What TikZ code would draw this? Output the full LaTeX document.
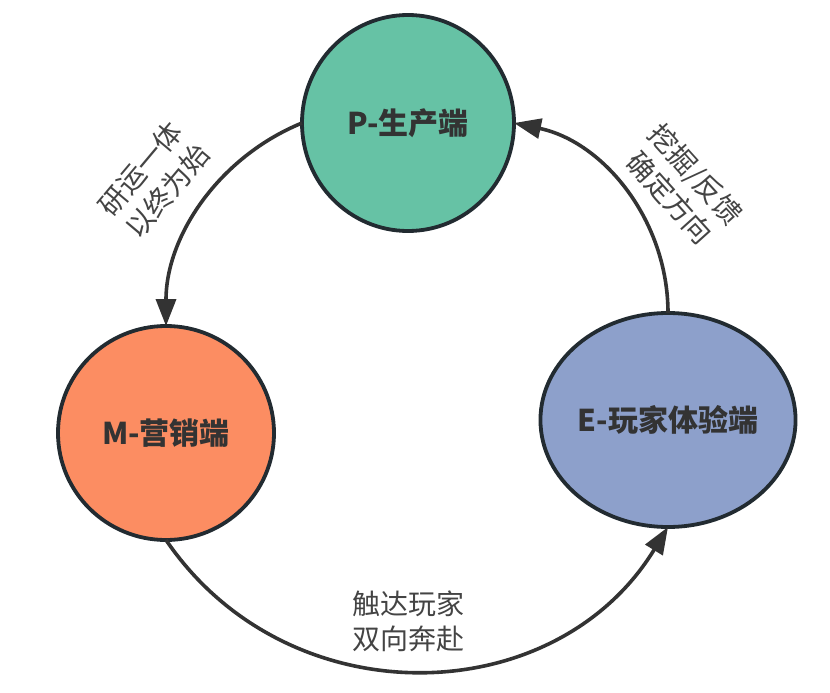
\documentclass[tikz,border=0pt]{standalone}
\usepackage{fontspec}
\setmainfont{Noto Sans CJK SC}
\usetikzlibrary{shapes.geometric,arrows.meta}
\definecolor{pfill}{HTML}{66C2A5}
\definecolor{mfill}{HTML}{FC8D62}
\definecolor{efill}{HTML}{8DA0CB}
\definecolor{rim}{HTML}{222B31}
\definecolor{ink}{HTML}{333333}
\definecolor{labelink}{HTML}{444444}
\begin{document}
\begin{tikzpicture}[x=1pt,y=-1pt,
  stage/.style={ellipse, draw=rim, line width=3.8pt, inner sep=0pt, outer sep=0pt,
    font=\fontsize{30}{34}\selectfont\bfseries, text=ink},
  flow/.style={draw=ink, line width=3.6pt, -{Triangle[length=27pt,width=20pt]}},
  note/.style={font=\fontsize{28}{35}\selectfont, text=labelink, align=center, inner sep=0pt}]
\useasboundingbox[fill=white] (0,0) rectangle (830,693);
\node[stage, fill=pfill, minimum width=212pt, minimum height=216pt] (P) at (408,123) {P-生产端};
\node[stage, fill=mfill, minimum width=216pt, minimum height=214pt] (M) at (166,433) {M-营销端};
\node[stage, fill=efill, minimum width=240pt, minimum height=214pt] (E) at (668,420) {E-玩家体验端};
\draw[flow] (P.west) .. controls +(-83,34) and +(0,-90) .. (M.north);
\draw[flow] (E.north) .. controls +(0,-92) and +(90,19) .. (P.east);
\draw[flow] (M.south) .. controls +(122,179) and +(-113,185) .. (E.south);
\node[note, rotate=50] (t1) at (154,180) {研运一体\\以终为始};
\node[note, rotate=-48] (t2) at (683,186) {挖掘/反馈\\确定方向};
\node[note] (t3) at (408,621) {触达玩家\\双向奔赴};
\end{tikzpicture}
\end{document}
